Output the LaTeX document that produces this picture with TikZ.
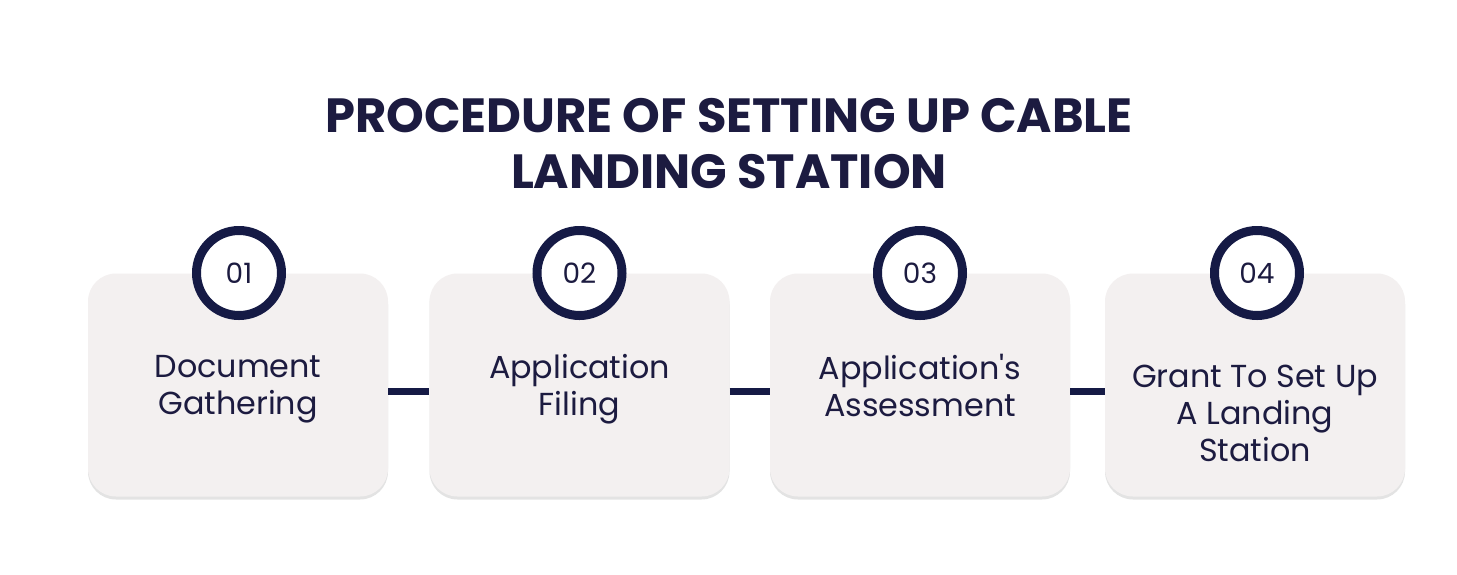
\documentclass[tikz,border=0pt]{standalone}
\usepackage{fontspec}
\setmainfont{Poppins}[Ligatures=TeXOff]
\usetikzlibrary{shadows}
\definecolor{navy}{HTML}{151A45}
\definecolor{ink}{HTML}{1C1B40}
\definecolor{card}{HTML}{F3F0F0}
\tikzset{
  cardbox/.style={draw=none, fill=card, rounded corners=28pt, minimum width=300pt, minimum height=223pt,
    drop shadow={opacity=0.22, shadow xshift=0pt, shadow yshift=-3pt}},
  numring/.style={circle, draw=navy, line width=9pt, fill=white, minimum size=85pt, inner sep=0pt,
    font=\fontsize{28}{30}\selectfont, text=ink},
  cardtext/.style={align=center, text=ink, font=\fontsize{31.8}{37}\selectfont, inner sep=0pt},
  titletext/.style={text=ink, font=\fontsize{48}{56}\selectfont\bfseries, inner sep=0pt},
  link/.style={draw=navy, line width=7pt}
}
\begin{document}
\begin{tikzpicture}[x=1pt,y=-1pt]
\useasboundingbox[fill=white] (0,0) rectangle (1457,574);
\node[titletext, anchor=base] (t1) at (729,132) {PROCEDURE OF SETTING UP CABLE};
\node[titletext, anchor=base] (t2) at (729,188) {LANDING STATION};

\node[cardbox] (b1) at (238,385) {};
\node[cardbox] (b2) at (579.5,385) {};
\node[cardbox] (b3) at (920,385) {};
\node[cardbox] (b4) at (1255,385) {};

\draw[link] (b1.east |- 0,391) -- (b2.west |- 0,391);
\draw[link] (b2.east |- 0,391) -- (b3.west |- 0,391);
\draw[link] (b3.east |- 0,391) -- (b4.west |- 0,391);

\node[numring] (n1) at (239,273) {01};
\node[numring] (n2) at (579.5,273) {02};
\node[numring] (n3) at (920,273) {03};
\node[numring] (n4) at (1257,273) {04};

\node[cardtext] (l1) at (238,389) {Document\\Gathering};
\node[cardtext] (l2) at (579.5,389) {Application\\Filing};
\node[cardtext] (l3) at (920,385.5) {Application's\\Assessment};
\node[cardtext] (l4) at (1255,413) {Grant To Set Up\\A Landing\\Station};
\end{tikzpicture}
\end{document}
